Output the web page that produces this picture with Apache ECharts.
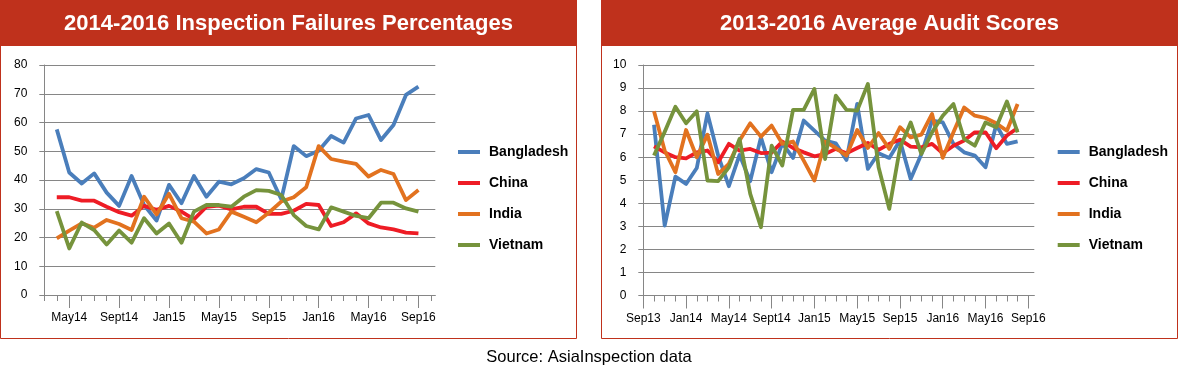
<!DOCTYPE html>
<html><head><meta charset="utf-8">
<script src="https://cdn.jsdelivr.net/npm/echarts@6/dist/echarts.min.js"></script>
<style>html,body{margin:0;padding:0;background:#fff}#c{width:1178px;height:373px}</style>
</head><body><div id="c"></div>
<script>
// ---------- data ----------
const leftTitle = '2014-2016 Inspection Failures Percentages';
const rightTitle = '2013-2016 Average Audit Scores';
const sourceText = 'Source: AsiaInspection data';
const seriesNames = ['Bangladesh', 'China', 'India', 'Vietnam'];

// left chart: Mar14 (empty) .. Sep16, Oct16 (empty)
const leftCategories = ['Mar14','Apr14','May14','Jun14','Jul14','Aug14','Sept14','Oct14','Nov14','Dec14',
  'Jan15','Feb15','Mar15','Apr15','May15','Jun15','Jul15','Aug15','Sep15','Oct15','Nov15','Dec15',
  'Jan16','Feb16','Mar16','Apr16','May16','Jun16','Jul16','Aug16','Sep16','Oct16'];
// values Apr14 .. Sep16
const bangladeshFail = [57.6,42.6,38.8,42.3,35.6,31.0,41.4,31.3,25.9,38.3,31.9,41.4,34.2,39.4,38.5,40.6,43.8,42.6,33.3,51.8,48.3,50.2,55.3,53.0,61.4,62.6,53.9,59.1,69.6,72.5];
const chinaFail      = [34.0,34.0,32.8,32.8,30.7,28.8,27.6,31.0,29.6,31.0,29.0,26.3,30.7,31.1,29.8,30.7,30.7,28.2,28.2,29.3,31.7,31.3,24.0,25.3,28.4,24.9,23.5,22.8,21.7,21.4];
const indiaFail      = [19.7,22.4,24.9,23.4,26.1,24.7,22.6,34.2,28.0,35.2,26.7,25.5,21.4,22.8,29.0,27.2,25.3,28.6,32.5,34.0,37.5,51.8,47.3,46.4,45.6,41.2,43.5,42.1,33.0,36.5];
const vietnamFail    = [29.2,16.2,25.2,22.6,17.6,22.4,18.2,26.7,21.4,24.9,18.2,29.0,31.3,31.3,30.7,34.2,36.5,36.2,34.8,27.8,24.0,22.8,30.5,29.0,27.5,26.7,32.1,32.1,30.1,29.0];
const leftYTicks = {min: 0, max: 80, interval: 10};

// right chart: Sep13 (empty) .. Aug16, Sep16 (empty)
const rightCategories = ['Sep13','Oct13','Nov13','Dec13',
  'Jan14','Feb14','Mar14','Apr14','May14','Jun14','Jul14','Aug14','Sept14','Oct14','Nov14','Dec14',
  'Jan15','Feb15','Mar15','Apr15','May15','Jun15','Jul15','Aug15','Sep15','Oct15','Nov15','Dec15',
  'Jan16','Feb16','Mar16','Apr16','May16','Jun16','Jul16','Aug16','Sep16'];
// values Oct13 .. Aug16
const bangladeshScore = [7.41,3.03,5.16,4.84,5.53,7.90,6.07,4.74,6.10,4.96,6.86,5.35,6.60,5.97,7.59,7.15,6.72,6.60,5.88,8.31,5.49,6.17,5.97,6.72,5.05,6.13,7.59,7.51,6.58,6.21,6.07,5.56,7.41,6.58,6.69];
const chinaScore      = [6.47,6.21,6.00,5.95,6.21,6.29,5.78,6.58,6.29,6.36,6.18,6.20,6.68,6.40,6.21,6.04,6.14,6.36,6.17,6.40,6.62,6.32,6.58,6.76,6.46,6.43,6.58,6.17,6.50,6.72,7.08,7.08,6.39,6.94,7.27];
const indiaScore      = [7.99,6.29,5.35,7.18,6.00,6.98,5.27,5.71,6.72,7.47,6.89,7.37,6.58,6.68,5.85,4.99,6.68,6.40,6.07,7.18,6.40,7.05,6.36,7.30,6.86,6.98,7.88,5.97,7.08,8.16,7.80,7.70,7.47,7.15,8.31];
const vietnamScore    = [6.07,7.10,8.19,7.47,7.99,4.99,4.96,5.56,6.79,4.41,2.96,6.50,5.64,8.05,8.05,8.96,5.92,8.67,8.05,8.02,9.18,5.56,3.76,6.40,7.51,6.14,7.08,7.80,8.31,6.79,6.50,7.51,7.30,8.42,7.08];
const rightYTicks = {min: 0, max: 10, interval: 1};

// ---------- styles ----------
const FONT = '"Liberation Sans", Arial, sans-serif';
const RED = '#BF311C';
const GRAY = '#868686';
const colors = ['#4A7EBB', '#EE1C25', '#E2721F', '#76933C'];

const chart = echarts.init(document.getElementById('c'), null, {renderer: 'canvas'});

function xAxes(gridIndex, cats, labelMod) {
  return [
    { type: 'category', gridIndex, data: cats, boundaryGap: false, position: 'bottom',
      axisLine: {show: false},
      axisTick: {show: true, interval: 0, length: 6, lineStyle: {color: GRAY}},
      axisLabel: {show: false}, splitLine: {show: false} },
    { type: 'category', gridIndex, data: cats, boundaryGap: false, position: 'bottom',
      axisLine: {show: false},
      axisTick: {show: true, interval: (i) => i % 4 === labelMod, length: 13, lineStyle: {color: GRAY}},
      axisLabel: {show: true, interval: (i) => i % 4 === labelMod, margin: 17,
        fontSize: 12, color: '#000', fontFamily: FONT},
      splitLine: {show: false} }
  ];
}
// helper axes for the plot frame: gridlines + baseline run a little past the last category
function frameX(gridIndex) {
  return { type: 'value', gridIndex, min: 0, max: 1, position: 'bottom',
    axisLine: {show: true, onZero: false, lineStyle: {color: GRAY, width: 1}},
    axisTick: {show: false}, axisLabel: {show: false}, splitLine: {show: false} };
}
function frameY(gridIndex, t) {
  return { type: 'value', gridIndex, min: t.min, max: t.max, interval: t.interval,
    axisLine: {show: false}, axisTick: {show: false}, axisLabel: {show: false},
    splitLine: {show: true, lineStyle: {color: GRAY, width: 1}} };
}
function yAxis(gridIndex, t) {
  return { type: 'value', gridIndex, min: t.min, max: t.max, interval: t.interval,
    axisLine: {show: true, lineStyle: {color: GRAY}},
    axisTick: {show: true, length: 5, lineStyle: {color: GRAY}},
    axisLabel: {margin: 17, fontSize: 12, color: '#000', fontFamily: FONT},
    splitLine: {show: false} };
}
function lineSeries(name, data, idx, xAxisIndex, yAxisIndex) {
  return { type: 'line', name, data, xAxisIndex, yAxisIndex, symbol: 'none', showSymbol: false,
    connectNulls: false, animation: false, z: 3,
    itemStyle: {color: colors[idx]}, lineStyle: {color: colors[idx], width: 3.8, join: 'round'} };
}
function legend(left) {
  return { left, top: 140, orient: 'vertical', icon: 'rect', itemWidth: 22, itemHeight: 4, itemGap: 17,
    selectedMode: false, data: seriesNames,
    textStyle: {fontSize: 14, fontWeight: 'bold', color: '#000', fontFamily: FONT, lineHeight: 14, padding: [0,0,0,4]} };
}

const pad = (arr, before, after) => [...Array(before).fill(null), ...arr, ...Array(after).fill(null)];

const option = {
  animation: false,
  backgroundColor: '#fff',
  grid: [
    {left: 44.3, top: 65, width: 386.6, height: 230, containLabel: false},
    {left: 643.3, top: 65, width: 385, height: 230.5, containLabel: false},
    {left: 44.3, top: 65, width: 391, height: 230, containLabel: false},
    {left: 643.3, top: 65, width: 391, height: 230.5, containLabel: false}
  ],
  xAxis: [...xAxes(0, leftCategories, 2), ...xAxes(1, rightCategories, 0), frameX(2), frameX(3)],
  yAxis: [yAxis(0, leftYTicks), yAxis(1, rightYTicks), frameY(2, leftYTicks), frameY(3, rightYTicks)],
  legend: [legend(453), legend(1052.7)],
  series: [
    lineSeries('Bangladesh', pad(bangladeshFail,1,1), 0, 0, 0),
    lineSeries('China', pad(chinaFail,1,1), 1, 0, 0),
    lineSeries('India', pad(indiaFail,1,1), 2, 0, 0),
    lineSeries('Vietnam', pad(vietnamFail,1,1), 3, 0, 0),
    lineSeries('Bangladesh', pad(bangladeshScore,1,1), 0, 2, 1),
    lineSeries('China', pad(chinaScore,1,1), 1, 2, 1),
    lineSeries('India', pad(indiaScore,1,1), 2, 2, 1),
    lineSeries('Vietnam', pad(vietnamScore,1,1), 3, 2, 1)
  ],
  graphic: [
    {type: 'rect', shape: {x: 0, y: 0, width: 577, height: 46}, style: {fill: RED}, z: -1},
    {type: 'rect', shape: {x: 0.5, y: 45.5, width: 576, height: 293}, style: {fill: null, stroke: RED, lineWidth: 1}, z: -1},
    {type: 'rect', shape: {x: 601, y: 0, width: 577, height: 46}, style: {fill: RED}, z: -1},
    {type: 'rect', shape: {x: 601.5, y: 45.5, width: 576, height: 293}, style: {fill: null, stroke: RED, lineWidth: 1}, z: -1},
    {type: 'text', x: 288.5, y: 23.5, style: {text: leftTitle, align: 'center', verticalAlign: 'middle',
      fill: '#fff', font: 'bold 22px ' + FONT}},
    {type: 'text', x: 889.5, y: 23.5, style: {text: rightTitle, align: 'center', verticalAlign: 'middle',
      fill: '#fff', font: 'bold 22px ' + FONT}},
    {type: 'text', x: 589, y: 357, style: {text: sourceText, align: 'center', verticalAlign: 'middle',
      fill: '#000', font: '16.5px ' + FONT}}
  ]
};
chart.setOption(option);
</script>
</body></html>
